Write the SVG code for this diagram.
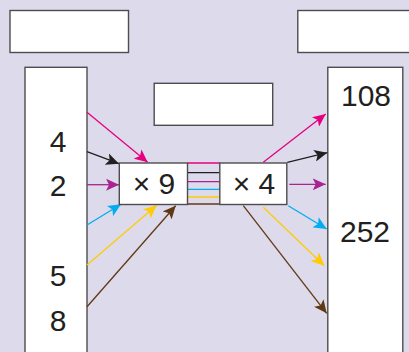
<svg xmlns="http://www.w3.org/2000/svg" width="409" height="352" viewBox="0 0 409 352">
<style>
.bg{fill:#dddaec}
.box{fill:#ffffff;stroke:#4d4d4f;stroke-width:1.4}
.t{font-family:"Liberation Sans",Arial,sans-serif;font-size:30px;fill:#231f20;text-anchor:middle}
.c{fill:none;stroke-width:1.3}
</style>
<defs>
<marker id="mPink" markerUnits="userSpaceOnUse" markerWidth="14" markerHeight="12" viewBox="0 0 14 12" refX="13" refY="6" orient="auto"><path d="M0,0 L13,6 L0,12 L3,6 z" fill="#e6007e"/></marker>
<marker id="mBlack" markerUnits="userSpaceOnUse" markerWidth="14" markerHeight="12" viewBox="0 0 14 12" refX="13" refY="6" orient="auto"><path d="M0,0 L13,6 L0,12 L3,6 z" fill="#231f20"/></marker>
<marker id="mPurple" markerUnits="userSpaceOnUse" markerWidth="14" markerHeight="12" viewBox="0 0 14 12" refX="13" refY="6" orient="auto"><path d="M0,0 L13,6 L0,12 L3,6 z" fill="#a9248f"/></marker>
<marker id="mCyan" markerUnits="userSpaceOnUse" markerWidth="14" markerHeight="12" viewBox="0 0 14 12" refX="13" refY="6" orient="auto"><path d="M0,0 L13,6 L0,12 L3,6 z" fill="#00aeef"/></marker>
<marker id="mYellow" markerUnits="userSpaceOnUse" markerWidth="14" markerHeight="12" viewBox="0 0 14 12" refX="13" refY="6" orient="auto"><path d="M0,0 L13,6 L0,12 L3,6 z" fill="#ffcb05"/></marker>
<marker id="mBrown" markerUnits="userSpaceOnUse" markerWidth="14" markerHeight="12" viewBox="0 0 14 12" refX="13" refY="6" orient="auto"><path d="M0,0 L13,6 L0,12 L3,6 z" fill="#603913"/></marker>
</defs>
<rect class="bg" x="0" y="0" width="409" height="352"/>
<g id="topLeftBox"><rect class="box" x="10" y="10.5" width="118.5" height="42"/></g>
<g id="topRightBox"><rect class="box" x="297.8" y="10.5" width="120" height="42"/></g>
<g id="middleBox"><rect class="box" x="154.2" y="83.3" width="118.5" height="42"/></g>
<g id="leftColumn">
<rect class="box" x="25" y="67.3" width="62" height="300"/>
<text class="t" x="58" y="151.5">4</text>
<text class="t" x="58" y="196">2</text>
<text class="t" x="58" y="286">5</text>
<text class="t" x="58" y="330.5">8</text>
</g>
<g id="rightColumn">
<rect class="box" x="327.8" y="67.3" width="75" height="300"/>
<text class="t" x="366" y="106">108</text>
<text class="t" x="365" y="241.5">252</text>
</g>
<g id="connectors">
<line class="c" stroke="#e6007e" x1="187.5" y1="163" x2="220" y2="163"/>
<line class="c" stroke="#231f20" x1="187.5" y1="172.7" x2="220" y2="172.7"/>
<line class="c" stroke="#a9248f" x1="187.5" y1="181.7" x2="220" y2="181.7"/>
<line class="c" stroke="#00aeef" x1="187.5" y1="189.3" x2="220" y2="189.3"/>
<line class="c" stroke="#ffcb05" x1="187.5" y1="197" x2="220" y2="197"/>
<line class="c" stroke="#603913" x1="187.5" y1="204" x2="220" y2="204"/>
<line class="c" stroke="#e6007e" marker-end="url(#mPink)" x1="87" y1="112.3" x2="147.7" y2="162.3"/>
<line class="c" stroke="#231f20" marker-end="url(#mBlack)" x1="87" y1="151.7" x2="119" y2="163.7"/>
<line class="c" stroke="#a9248f" marker-end="url(#mPurple)" x1="87" y1="184.7" x2="119" y2="184.7"/>
<line class="c" stroke="#00aeef" marker-end="url(#mCyan)" x1="87" y1="225" x2="121" y2="204.3"/>
<line class="c" stroke="#ffcb05" marker-end="url(#mYellow)" x1="87" y1="265" x2="156.7" y2="205.3"/>
<line class="c" stroke="#603913" marker-end="url(#mBrown)" x1="87" y1="306.7" x2="175.7" y2="205.7"/>
<line class="c" stroke="#e6007e" marker-end="url(#mPink)" x1="263.3" y1="162.3" x2="325.7" y2="114"/>
<line class="c" stroke="#231f20" marker-end="url(#mBlack)" x1="287.3" y1="162.3" x2="327.3" y2="152.7"/>
<line class="c" stroke="#a9248f" marker-end="url(#mPurple)" x1="289.3" y1="184.3" x2="325.7" y2="184.3"/>
<line class="c" stroke="#00aeef" marker-end="url(#mCyan)" x1="288.3" y1="205.7" x2="326.7" y2="229"/>
<line class="c" stroke="#ffcb05" marker-end="url(#mYellow)" x1="263.3" y1="207.3" x2="324.3" y2="265.7"/>
<line class="c" stroke="#603913" marker-end="url(#mBrown)" x1="243.3" y1="205.7" x2="326.7" y2="313.3"/>
</g>
<g id="times9"><rect class="box" x="119.3" y="163" width="68.2" height="41.5"/><text class="t" x="154" y="194.3">× 9</text></g>
<g id="times4"><rect class="box" x="219.8" y="163" width="67" height="41.5"/><text class="t" x="254" y="194.3">× 4</text></g>
</svg>
